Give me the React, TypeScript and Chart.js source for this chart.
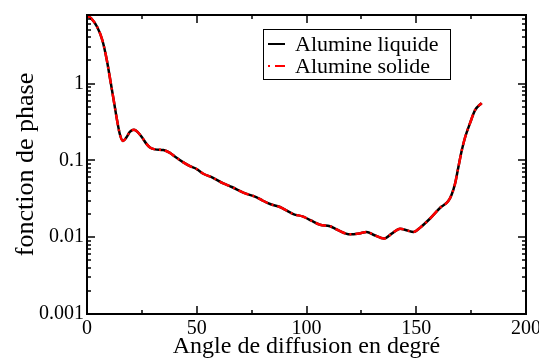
import React, { useEffect, useRef } from "react";
import { Chart, registerables } from "chart.js";

Chart.register(...registerables);

const angles = [
  0, 2, 4.7, 7, 9, 10.8, 12.3, 13.8, 15, 16.4, 18, 19.5, 21.4, 23, 25.2, 27, 28.7, 31, 34.8,
  37.8, 40, 43.9, 46.9, 50, 53, 57, 62.1, 66, 71.2, 77.3, 80, 83.4, 87.9, 90, 94, 98.5, 102,
  106.2, 110.7, 114, 119.8, 124, 127.4, 131, 135.3, 139, 142.6, 146, 148.7, 152, 156.3, 160.8,
  164.6, 166.1, 167.7, 169.2, 170.7, 172.2, 174.5, 176.8, 179.8,
];
const liquide = [
  7.6, 7.0, 5.4, 3.66, 2.04, 1.03, 0.574, 0.32, 0.217, 0.178, 0.2, 0.235, 0.25, 0.235, 0.197,
  0.165, 0.147, 0.139, 0.136, 0.125, 0.112, 0.094, 0.084, 0.077, 0.067, 0.06, 0.05, 0.045,
  0.038, 0.033, 0.03, 0.027, 0.0247, 0.023, 0.02, 0.0185, 0.0165, 0.0145, 0.0139, 0.0125,
  0.0109, 0.0112, 0.0117, 0.0106, 0.0096, 0.0112, 0.0129, 0.0122, 0.0117, 0.0135, 0.0175,
  0.024, 0.0295, 0.0357, 0.05, 0.082, 0.133, 0.197, 0.305, 0.45, 0.557,
];
const solide = [
  7.6, 7.0, 5.4, 3.66, 2.04, 1.03, 0.574, 0.32, 0.217, 0.178, 0.2, 0.235, 0.25, 0.235, 0.197,
  0.165, 0.147, 0.139, 0.136, 0.125, 0.112, 0.094, 0.084, 0.077, 0.067, 0.06, 0.05, 0.045,
  0.038, 0.033, 0.03, 0.027, 0.0247, 0.023, 0.02, 0.0185, 0.0165, 0.0145, 0.0139, 0.0125,
  0.0109, 0.0112, 0.0117, 0.0106, 0.0096, 0.0112, 0.0129, 0.0122, 0.0117, 0.0135, 0.0175,
  0.024, 0.0295, 0.0357, 0.05, 0.082, 0.133, 0.197, 0.305, 0.45, 0.557,
];
const seriesLabels = ["Alumine liquide", "Alumine solide"];
const yTickValues = [0.001, 0.01, 0.1, 1];
const xTitle = "Angle de diffusion en degré";
const yTitle = "fonction de phase";

const FONT = "'Liberation Serif', 'Times New Roman', serif";

const framePlugin = {
  id: "frame",
  afterDatasetsDraw(chart: any) {
    const { ctx, chartArea: a, scales } = chart;
    const xs = scales.x;
    const ys = scales.y;
    ctx.save();
    ctx.strokeStyle = "#000";
    ctx.lineWidth = 2;
    ctx.strokeRect(a.left, a.top, a.right - a.left, a.bottom - a.top);
    ctx.lineWidth = 1.5;
    ctx.beginPath();
    for (let v = xs.min; v <= xs.max; v += 25) {
      const px = Math.round(xs.getPixelForValue(v));
      const len = v % 50 === 0 ? 8 : 4;
      ctx.moveTo(px, a.bottom);
      ctx.lineTo(px, a.bottom - len);
      ctx.moveTo(px, a.top);
      ctx.lineTo(px, a.top + len);
    }
    for (let e = -3; e <= 0; e++) {
      for (let m = 1; m <= 9; m++) {
        const v = m * Math.pow(10, e);
        if (v > ys.max) break;
        const py = Math.round(ys.getPixelForValue(v));
        const len = m === 1 ? 8 : 4;
        ctx.moveTo(a.left, py);
        ctx.lineTo(a.left + len, py);
        ctx.moveTo(a.right, py);
        ctx.lineTo(a.right - len, py);
      }
    }
    ctx.stroke();

    // legend box
    const bx = 263, by = 29, bw = 187, bh = 50;
    ctx.fillStyle = "#fff";
    ctx.fillRect(bx, by, bw, bh);
    ctx.lineWidth = 1;
    ctx.strokeStyle = "#000";
    ctx.strokeRect(bx + 0.5, by + 0.5, bw, bh);
    const rows = [44, 66];
    chart.data.datasets.forEach((ds: any, i: number) => {
      ctx.beginPath();
      ctx.strokeStyle = ds.borderColor;
      ctx.lineWidth = 2;
      ctx.setLineDash(i === 1 ? [2, 5, 10, 0] : []);
      ctx.moveTo(268, rows[i]);
      ctx.lineTo(285, rows[i]);
      ctx.stroke();
      ctx.setLineDash([]);
      ctx.fillStyle = "#000";
      ctx.font = `22px ${FONT}`;
      ctx.textBaseline = "middle";
      ctx.textAlign = "left";
      ctx.fillText(ds.label, 295, rows[i] + 1);
    });
    ctx.restore();
  },
};

export default function App() {
  const ref = useRef<HTMLCanvasElement>(null);
  useEffect(() => {
    document.body.style.margin = "0";
    const canvas = ref.current!;
    const chart = new Chart(canvas, {
      type: "line",
      data: {
        datasets: [
          {
            label: seriesLabels[0],
            data: angles.map((x, i) => ({ x, y: liquide[i] })),
            borderColor: "#000000",
            borderWidth: 2.5,
            pointRadius: 0,
            cubicInterpolationMode: "monotone",
            fill: false,
            order: 2,
          },
          {
            label: seriesLabels[1],
            data: angles.map((x, i) => ({ x, y: solide[i] })),
            borderColor: "#ff0000",
            borderWidth: 2.5,
            borderDash: [11, 4, 2, 4],
            pointRadius: 0,
            cubicInterpolationMode: "monotone",
            fill: false,
            order: 1,
          },
        ],
      },
      options: {
        responsive: false,
        animation: false,
        events: [],
        layout: { padding: { top: 7, right: 13, left: 0, bottom: 0 } },
        plugins: { legend: { display: false }, tooltip: { enabled: false } },
        scales: {
          x: {
            type: "linear",
            min: 0,
            max: 200,
            grid: { display: false, drawTicks: false },
            border: { display: false },
            ticks: {
              stepSize: 50,
              padding: 3,
              color: "#000",
              font: { family: FONT, size: 20 },
              maxRotation: 0,
            },
            title: {
              display: true,
              text: xTitle,
              color: "#000",
              font: { family: FONT, size: 24 },
              padding: { top: 0, bottom: 0 },
            },
            afterFit: (s: any) => {
              s.height = 47;
              s.paddingRight = 0;
              s.paddingLeft = 0;
            },
          },
          y: {
            type: "logarithmic",
            min: 0.001,
            max: 7.8,
            grid: { display: false, drawTicks: false },
            border: { display: false },
            afterBuildTicks: (s: any) => {
              s.ticks = yTickValues.map((v) => ({ value: v }));
            },
            ticks: {
              padding: 3,
              color: "#000",
              font: { family: FONT, size: 20 },
              callback: (v: any) => String(v),
            },
            title: {
              display: true,
              text: yTitle,
              color: "#000",
              font: { family: FONT, size: 26 },
              padding: { top: 11, bottom: 0 },
            },
            afterFit: (s: any) => {
              s.width = 87;
            },
          },
        },
      },
      plugins: [framePlugin],
    } as any);
    return () => chart.destroy();
  }, []);
  return <canvas ref={ref} width={539} height={361} style={{ display: "block" }} />;
}
